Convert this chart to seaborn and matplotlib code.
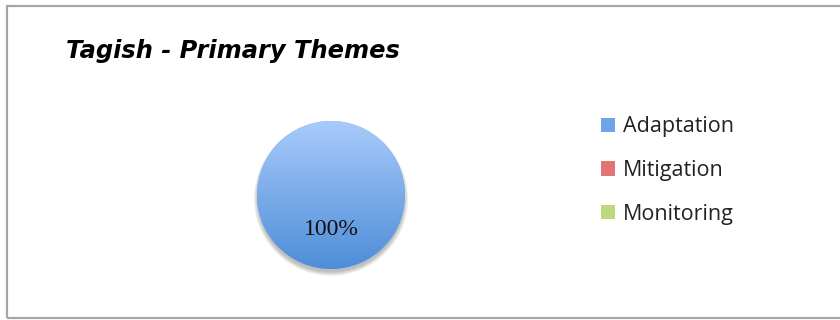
import numpy as np
import matplotlib
matplotlib.use("Agg")
import matplotlib.pyplot as plt
from matplotlib.colors import LinearSegmentedColormap
from matplotlib.patches import Rectangle, Circle, Patch
import seaborn as sns

# Share of projects by primary theme
categories = ["Adaptation", "Mitigation", "Monitoring"]
values = [100, 0, 0]
title = "Tagish - Primary Themes"

sns.set_theme(style="white")
plt.rcParams["font.family"] = ["Open Sans", "DejaVu Sans"]

top_colors = ["#a8cbfb", "#f2a09c", "#d6ea9e"]
bottom_colors = ["#4e8dd8", "#d95b57", "#a9cc62"]
palette = sns.color_palette(["#6fa3e8", "#e27571", "#bcd97c"])

fig = plt.figure(figsize=(8.4, 3.2), dpi=100)
fig.patch.set_facecolor("white")

# outer chart frame
fig.patches.append(Rectangle((7 / 840, 2 / 320), 840 / 840, 312 / 320,
                             transform=fig.transFigure, fill=False,
                             edgecolor="#a6a6a6", linewidth=1.6, zorder=0))

fig.text(66 / 840, 1 - 58 / 320, title, fontsize=17.4, fontweight="bold",
         fontstyle="italic", family=["DejaVu Sans"], color="black",
         ha="left", va="baseline")

ax = fig.add_axes([257 / 840, 1 - 269 / 320, 148 / 840, 148 / 320])
ax.set_aspect("equal")

# soft drop shadow under the pie
for k in range(7):
    ax.add_patch(Circle((0, -0.05), 0.99 + 0.009 * k, facecolor="#000000",
                        alpha=0.04, edgecolor="none", zorder=0, clip_on=False))

wedges, texts, autotexts = ax.pie(
    values, colors=palette, startangle=90, counterclock=False,
    autopct=lambda p: f"{p:.0f}%" if p > 0 else "",
    pctdistance=0.46, wedgeprops=dict(linewidth=0),
    textprops=dict(family=["Liberation Serif"], fontsize=17, color="#111111"))

# vertical gradient fill for each slice
for w, c_top, c_bot, v in zip(wedges, top_colors, bottom_colors, values):
    if v <= 0:
        w.set_visible(False)
        continue
    cmap = LinearSegmentedColormap.from_list("grad", [c_bot, c_top])
    grad = np.linspace(0, 1, 256).reshape(-1, 1)
    im = ax.imshow(grad, cmap=cmap, extent=[-1, 1, -1, 1], origin="lower",
                   aspect="auto", zorder=1)
    im.set_clip_path(w)
for t in autotexts:
    t.set_zorder(3)

ax.set_xlim(-1, 1)
ax.set_ylim(-1, 1)
ax.axis("off")

handles = [Patch(facecolor=c, edgecolor="none") for c in palette]
fig.legend(handles, categories, loc="upper left",
           bbox_to_anchor=(582 / 840, 1 - 97 / 320), frameon=False,
           fontsize=15.5, labelspacing=1.05, handlelength=0.65,
           handleheight=0.65, handletextpad=0.35, labelcolor="#222222")

fig.savefig("out.png", dpi=100, facecolor="white")
